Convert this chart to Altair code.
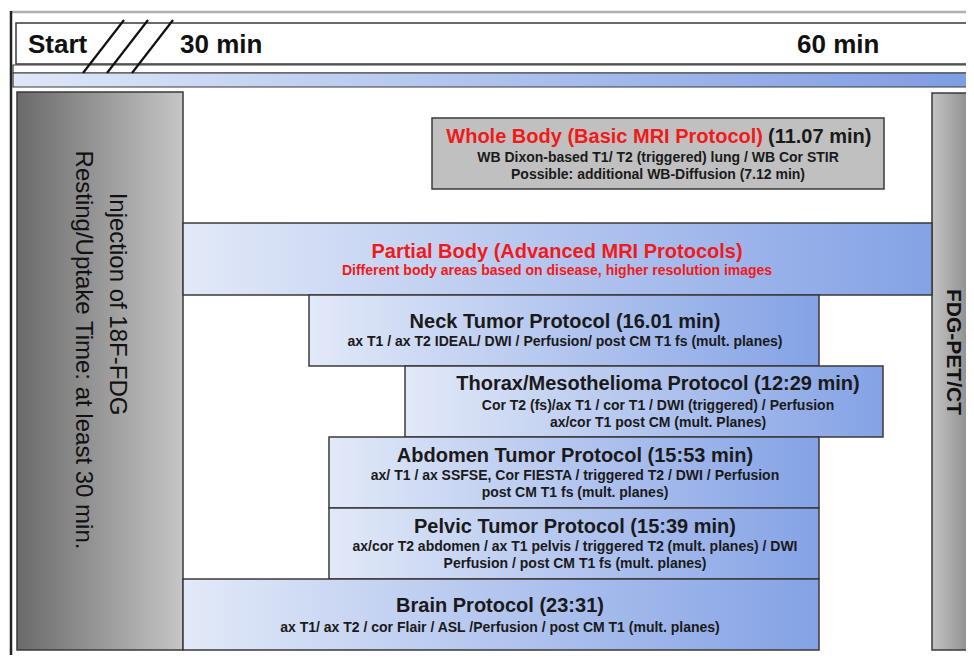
import altair as alt
import pandas as pd

# ---------------- data (reference pixel coordinates) ----------------
# blue gradient protocol boxes
blue_names = ["Partial Body", "Neck", "Thorax", "Abdomen", "Pelvic", "Brain"]
blue_x0 = [183, 309, 405, 329, 329, 183]
blue_x1 = [932, 819, 883, 819, 819, 819]
blue_y0 = [223, 295, 366, 437, 508, 579]
blue_y1 = [295, 366, 437, 508, 579, 650]

# grey whole-body box
wb_x0, wb_x1, wb_y0, wb_y1 = [432], [884], [118], [189]

# side boxes
left_box = dict(x0=[17], x1=[183], y0=[92], y1=[650])
right_box = dict(x0=[932], x1=[985], y0=[93], y1=[650])

# timeline
top_box = dict(x0=[16], x1=[985], y0=[23], y1=[64])
arrow_top = dict(x0=[13], x1=[968], y0=[65], y1=[73])
arrow_low = dict(x0=[13], x1=[968], y0=[73], y1=[87])
slash_x0 = [83, 107, 132]
slash_y0 = [73, 73, 73]
slash_x1 = [124, 148, 173]
slash_y1 = [20, 20, 20]

time_labels = ["Start", "30 min", "60 min"]
time_x = [28, 180, 797]
time_y = [45, 45, 45]

# centred text lines
c_text = [
    "WB Dixon-based T1/ T2 (triggered) lung / WB Cor STIR",
    "Possible: additional WB-Diffusion (7.12 min)",
    "Partial Body (Advanced MRI Protocols)",
    "Different body areas based on disease, higher resolution images",
    "Neck Tumor Protocol (16.01 min)",
    "ax T1 / ax T2 IDEAL/ DWI / Perfusion/ post CM T1 fs (mult. planes)",
    "Thorax/Mesothelioma Protocol (12:29 min)",
    "Cor T2 (fs)/ax T1 / cor T1 / DWI (triggered) / Perfusion",
    "ax/cor T1 post CM (mult. Planes)",
    "Abdomen Tumor Protocol (15:53 min)",
    "ax/ T1 / ax SSFSE, Cor FIESTA / triggered T2 / DWI / Perfusion",
    "post CM T1 fs (mult. planes)",
    "Pelvic Tumor Protocol (15:39 min)",
    "ax/cor T2 abdomen / ax T1 pelvis / triggered T2 (mult. planes) / DWI",
    "Perfusion / post CM T1 fs (mult. planes)",
    "Brain Protocol (23:31)",
    "ax T1/ ax T2 / cor Flair / ASL /Perfusion / post CM T1 (mult. planes)",
]
c_x = [658, 658, 557, 557, 565, 565, 658, 658, 658, 575, 575, 575, 575, 575, 575, 500, 500]
c_y = [158, 175, 252, 271, 322, 342, 384, 406, 423, 456, 476, 493, 527, 547, 564, 606, 628]
c_size = [14, 14, 20, 14, 20, 14, 20, 14, 14, 20, 14, 14, 20, 14, 14, 20, 14]
c_color = ["#1a1a1a", "#1a1a1a", "#f01a1a", "#f01a1a", "#1a1a1a", "#1a1a1a",
           "#1a1a1a", "#1a1a1a", "#1a1a1a", "#1a1a1a", "#1a1a1a", "#1a1a1a",
           "#1a1a1a", "#1a1a1a", "#1a1a1a", "#1a1a1a", "#1a1a1a"]

# whole-body title, split into red and black parts
wb_red = "Whole Body (Basic MRI Protocol)"
wb_black = "(11.07 min)"
wb_split_x = [763, 768]
wb_title_y = [137]

# rotated texts
left_lines = ["Injection of 18F-FDG", "Resting/Uptake Time: at least 30 min."]
left_x = [117, 83]
left_y = [304, 350]
right_label = ["FDG-PET/CT"]
right_x = [953]
right_y = [352]

# ---------------- styles ----------------
FONT = "Liberation Sans"
STROKE = "#3a3a3a"
xs = alt.Scale(domain=[8, 966], nice=False, zero=False)
ys = alt.Scale(domain=[8, 655], reverse=True, nice=False, zero=False)


def grad(c0, c1):
    return alt.LinearGradient(
        gradient="linear",
        stops=[alt.GradientStop(color=c0, offset=0), alt.GradientStop(color=c1, offset=1)],
        x1=0, x2=1, y1=0, y2=0,
    )


def rect_layer(df, fill, sw=1.5):
    return alt.Chart(df).mark_rect(fill=fill, stroke=STROKE, strokeWidth=sw).encode(
        x=alt.X("x0:Q", scale=xs, axis=None),
        x2="x1:Q",
        y=alt.Y("y0:Q", scale=ys, axis=None),
        y2="y1:Q",
    )


blue_df = pd.DataFrame(dict(name=blue_names, x0=blue_x0, x1=blue_x1, y0=blue_y0, y1=blue_y1))
wb_df = pd.DataFrame(dict(x0=wb_x0, x1=wb_x1, y0=wb_y0, y1=wb_y1))

# frame lines
frame_v = alt.Chart(pd.DataFrame(dict(x=[11], y=[11], y2=[670]))).mark_rule(
    color="#222222", strokeWidth=2.5).encode(
    x=alt.X("x:Q", scale=xs, axis=None), y=alt.Y("y:Q", scale=ys, axis=None), y2="y2:Q")
frame_h = alt.Chart(pd.DataFrame(dict(x=[11], x2=[980], y=[12]))).mark_rule(
    color="#b0b0b0", strokeWidth=2.5).encode(
    x=alt.X("x:Q", scale=xs, axis=None), x2="x2:Q", y=alt.Y("y:Q", scale=ys, axis=None))

layers = [
    frame_h,
    frame_v,
    rect_layer(pd.DataFrame(top_box), "#ffffff"),
    rect_layer(pd.DataFrame(arrow_top), "#ffffff", 1.2),
    rect_layer(pd.DataFrame(arrow_low), grad("#dfe7f8", "#7e9de2"), 1.2),
    rect_layer(pd.DataFrame(left_box), grad("#6a6a6a", "#c6c6c6")),
    rect_layer(pd.DataFrame(right_box), grad("#c4c4c4", "#777777")),
    rect_layer(wb_df, "#c0c0c0"),
    rect_layer(blue_df, grad("#e2e9f8", "#84a2e5")),
]

slash_df = pd.DataFrame(dict(x0=slash_x0, y0=slash_y0, x1=slash_x1, y1=slash_y1))
layers.append(
    alt.Chart(slash_df).mark_rule(color="#111111", strokeWidth=2.2).encode(
        x=alt.X("x0:Q", scale=xs, axis=None), y=alt.Y("y0:Q", scale=ys, axis=None),
        x2="x1:Q", y2="y1:Q")
)

time_df = pd.DataFrame(dict(t=time_labels, x=time_x, y=time_y))
layers.append(
    alt.Chart(time_df).mark_text(font=FONT, fontWeight="bold", fontSize=26, align="left",
                                 baseline="middle", color="#111111").encode(
        x=alt.X("x:Q", scale=xs, axis=None), y=alt.Y("y:Q", scale=ys, axis=None), text="t:N")
)

c_df = pd.DataFrame(dict(t=c_text, x=c_x, y=c_y, s=c_size, c=c_color))
layers.append(
    alt.Chart(c_df).mark_text(font=FONT, fontWeight="bold", align="center", baseline="middle").encode(
        x=alt.X("x:Q", scale=xs, axis=None), y=alt.Y("y:Q", scale=ys, axis=None), text="t:N",
        size=alt.Size("s:Q", scale=None), color=alt.Color("c:N", scale=None))
)

wbr_df = pd.DataFrame(dict(t=[wb_red], x=[wb_split_x[0]], y=wb_title_y))
wbb_df = pd.DataFrame(dict(t=[wb_black], x=[wb_split_x[1]], y=wb_title_y))
layers.append(
    alt.Chart(wbr_df).mark_text(font=FONT, fontWeight="bold", fontSize=20, align="right",
                                baseline="middle", color="#f01a1a").encode(
        x=alt.X("x:Q", scale=xs, axis=None), y=alt.Y("y:Q", scale=ys, axis=None), text="t:N")
)
layers.append(
    alt.Chart(wbb_df).mark_text(font=FONT, fontWeight="bold", fontSize=20, align="left",
                                baseline="middle", color="#1a1a1a").encode(
        x=alt.X("x:Q", scale=xs, axis=None), y=alt.Y("y:Q", scale=ys, axis=None), text="t:N")
)

left_df = pd.DataFrame(dict(t=left_lines, x=left_x, y=left_y))
layers.append(
    alt.Chart(left_df).mark_text(font=FONT, fontSize=24, angle=90, align="center",
                                 baseline="middle", color="#111111").encode(
        x=alt.X("x:Q", scale=xs, axis=None), y=alt.Y("y:Q", scale=ys, axis=None), text="t:N")
)
right_df = pd.DataFrame(dict(t=right_label, x=right_x, y=right_y))
layers.append(
    alt.Chart(right_df).mark_text(font=FONT, fontWeight="bold", fontSize=21, angle=90, align="center",
                                  baseline="middle", color="#111111").encode(
        x=alt.X("x:Q", scale=xs, axis=None), y=alt.Y("y:Q", scale=ys, axis=None), text="t:N")
)

chart = alt.layer(*layers).properties(
    width=958, height=647, padding=0, autosize=alt.AutoSizeParams(type="none"),
    background="#ffffff",
).configure_view(stroke=None)

chart.save("out.html", embed_options={"renderer": "svg", "actions": False})
